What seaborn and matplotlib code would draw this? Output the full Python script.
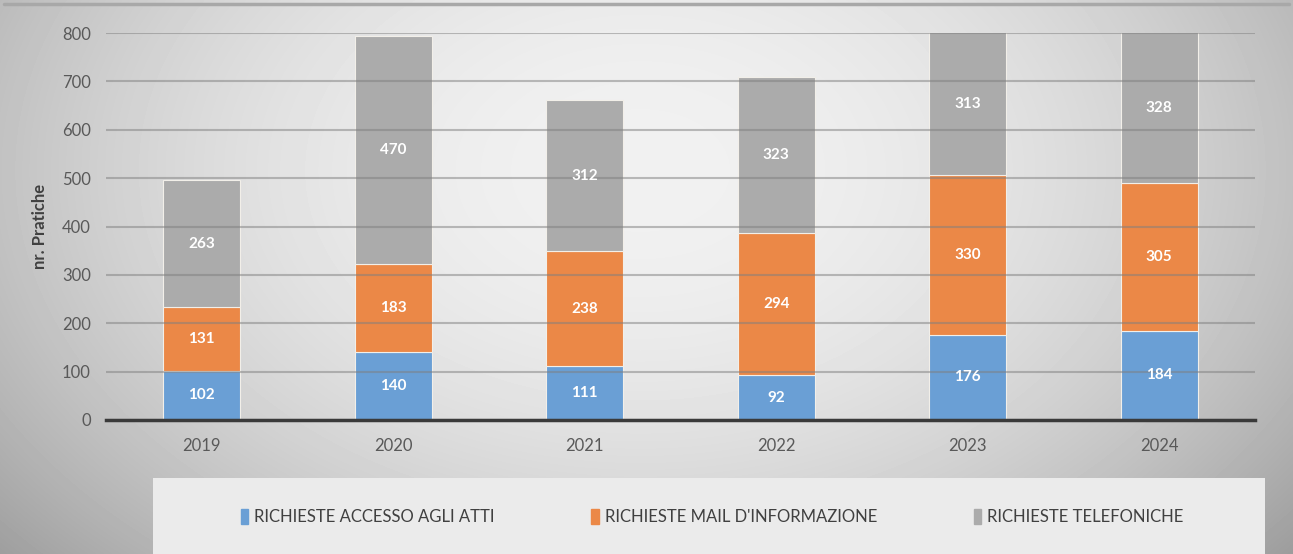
import numpy as np
import pandas as pd
import matplotlib.pyplot as plt
from matplotlib.patches import Rectangle
import seaborn as sns

# data
anni = ['2019', '2020', '2021', '2022', '2023', '2024']
accesso_atti = [102, 140, 111, 92, 176, 184]
mail_info = [131, 183, 238, 294, 330, 305]
telefoniche = [263, 470, 312, 323, 313, 328]
serie = ['RICHIESTE ACCESSO AGLI ATTI', "RICHIESTE MAIL D'INFORMAZIONE", 'RICHIESTE TELEFONICHE']
colori = ['#6A9FD5', '#EB8847', '#ABABAB']

df = pd.DataFrame({'anno': anni, serie[0]: accesso_atti, serie[1]: mail_info, serie[2]: telefoniche})

sns.set_style('white')
plt.rcParams['font.family'] = ['Lato', 'DejaVu Sans']

fig = plt.figure(figsize=(12.93, 5.54), dpi=100)

# gradient background
bg = fig.add_axes([0, 0, 1, 1], zorder=-10)
yy, xx = np.mgrid[0:554, 0:1293]
r = np.sqrt(((xx - 640) / 700.0) ** 2 + ((yy - 170) / 480.0) ** 2)
grad = 0.945 - 0.22 * r ** 2
bg.imshow(grad, cmap='gray', vmin=0, vmax=1, aspect='auto', extent=[0, 1, 0, 1])
bg.axis('off')
bg.plot([0.003, 0.997], [0.993, 0.993], color='#a8a8a8', lw=2.5, transform=bg.transAxes)

fig.patches.append(Rectangle((153 / 1293, 0), (1265 - 153) / 1293, 76 / 554,
                             transform=fig.transFigure, facecolor='#ebebeb',
                             edgecolor='none', zorder=-5))

ax = fig.add_axes([0.082, 0.2419, 0.8886, 0.6985])
ax.patch.set_alpha(0)

bottom = np.zeros(len(anni))
for nome, col in zip(serie, colori):
    sns.barplot(data=df, x='anno', y=nome, color=col, width=0.4, bottom=bottom,
                ax=ax, label=nome, edgecolor='#f2efe9', linewidth=0.8, saturation=1)
    bottom = bottom + df[nome].values

for cont in ax.containers:
    ax.bar_label(cont, label_type='center', color='white', fontsize=11,
                 fontweight='bold')

ax.set_ylim(0, 800)
ax.set_xlim(-0.5, 5.5)
ax.set_yticks(range(0, 801, 100))
ax.yaxis.grid(True, color='#7f7f7f', alpha=0.5, lw=1.5)
ax.set_axisbelow(False)
sns.despine(ax=ax, left=True, right=True, top=True)
ax.spines['bottom'].set_color('#3a3a3a')
ax.spines['bottom'].set_linewidth(2.5)
ax.spines['bottom'].set_zorder(4)
ax.tick_params(axis='both', length=0, labelsize=12, labelcolor='#595959', pad=13)
ax.tick_params(axis='y', pad=11)
ax.set_xlabel('')
ax.set_ylabel('nr. Pratiche', fontsize=12, fontweight='bold', color='#404040', labelpad=10)
if ax.legend_:
    ax.legend_.remove()

handles = [Rectangle((0, 0), 1, 1, color=c) for c in colori]
fig.legend(handles, serie, loc='center', bbox_to_anchor=(712 / 1293, 37 / 554),
           ncol=3, frameon=False, fontsize=12, handlelength=0.45, handleheight=1.0,
           handletextpad=0.35, columnspacing=5.8, labelcolor='#404040')

fig.savefig('out.png', dpi=100)
